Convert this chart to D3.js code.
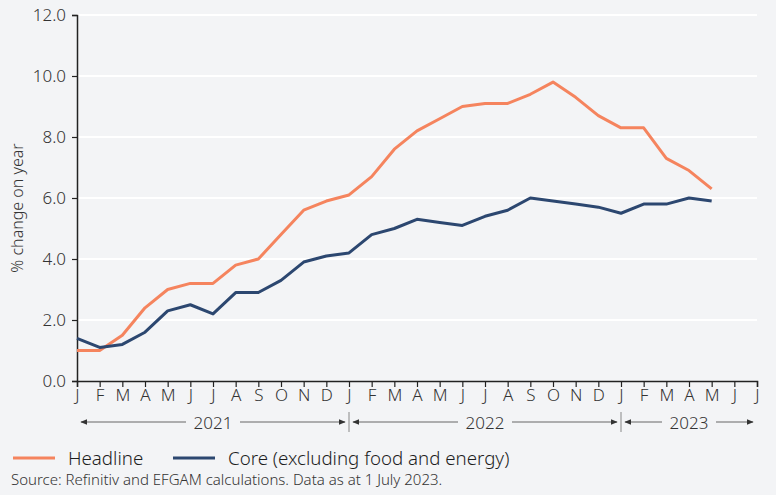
<!DOCTYPE html>
<html>
<head>
<meta charset="utf-8">
<script src="https://cdn.jsdelivr.net/npm/d3@7"></script>
<style>
  body { margin: 0; background: #f3f4f6; }
  svg { display: block; font-family: "Noto Sans", sans-serif; font-weight: 350; }
</style>
</head>
<body>
<svg id="chart"></svg>
<script>
// Monthly data Jan 2021 - May 2023
const months = ["J","F","M","A","M","J","J","A","S","O","N","D",
                "J","F","M","A","M","J","J","A","S","O","N","D",
                "J","F","M","A","M","J","J"];
const headline = [1.0, 1.0, 1.5, 2.4, 3.0, 3.2, 3.2, 3.8, 4.0, 4.8, 5.6, 5.9,
                  6.1, 6.7, 7.6, 8.2, 8.6, 9.0, 9.1, 9.1, 9.4, 9.8, 9.3, 8.7,
                  8.3, 8.3, 7.3, 6.9, 6.3];
const core = [1.4, 1.1, 1.2, 1.6, 2.3, 2.5, 2.2, 2.9, 2.9, 3.3, 3.9, 4.1,
              4.2, 4.8, 5.0, 5.3, 5.2, 5.1, 5.4, 5.6, 6.0, 5.9, 5.8, 5.7,
              5.5, 5.8, 5.8, 6.0, 5.9];
const years = [{label: "2021", start: 0, end: 12},
               {label: "2022", start: 12, end: 24},
               {label: "2023", start: 24, end: 30}];
const yTicks = [0, 2, 4, 6, 8, 10, 12];

const width = 776;
const height = 495;
const margin = {left: 77, right: 19, top: 15, bottom: 114};

const svg = d3.select("#chart")
    .attr("width", width)
    .attr("height", height);

svg.append("rect")
    .attr("width", width)
    .attr("height", height)
    .attr("fill", "#f3f4f6");

const x = d3.scaleLinear()
    .domain([0, months.length - 1])
    .range([margin.left, width - margin.right]);
const y = d3.scaleLinear()
    .domain([0, 12])
    .range([height - margin.bottom, margin.top]);

// gridlines
svg.append("g")
    .selectAll("line")
    .data(yTicks.slice(1))
    .enter()
    .append("line")
    .attr("x1", margin.left)
    .attr("x2", width - margin.right)
    .attr("y1", d => y(d))
    .attr("y2", d => y(d))
    .attr("stroke", "#ffffff")
    .attr("stroke-width", 2);

// y axis
const yAxis = d3.axisLeft(y)
    .tickValues(yTicks)
    .tickFormat(d3.format(".1f"))
    .tickSizeOuter(0)
    .tickSize(5)
    .tickPadding(6);
const gy = svg.append("g")
    .attr("transform", "translate(" + margin.left + ",0)")
    .call(yAxis);
gy.select(".domain").attr("stroke", "#222").attr("stroke-width", 1.5);
gy.selectAll(".tick line").attr("stroke", "#222").attr("stroke-width", 1.2);
gy.selectAll(".tick text")
    .attr("fill", "#333")
    .style("font-size", "17px")
    .style("font-family", "'Noto Sans', sans-serif")
    .style("font-weight", 350);

svg.append("text")
    .attr("transform", "translate(23,208) rotate(-90)")
    .attr("text-anchor", "middle")
    .attr("fill", "#333")
    .style("font-size", "16px")
    .text("% change on year");

// x axis
const xAxis = d3.axisBottom(x)
    .tickValues(d3.range(months.length))
    .tickFormat(i => months[i])
    .tickSizeOuter(0)
    .tickSize(6)
    .tickPadding(2);
const gx = svg.append("g")
    .attr("transform", "translate(0," + y(0) + ")")
    .call(xAxis);
gx.select(".domain").attr("stroke", "#222").attr("stroke-width", 1.5);
gx.selectAll(".tick line").attr("stroke", "#222").attr("stroke-width", 1.2);
gx.selectAll(".tick text")
    .attr("fill", "#333")
    .style("font-size", "17px")
    .style("font-family", "'Noto Sans', sans-serif")
    .style("font-weight", 350);

// year bands with arrows
const defs = svg.append("defs");
defs.append("marker")
    .attr("id", "arrow")
    .attr("viewBox", "0 0 10 10")
    .attr("refX", 9)
    .attr("refY", 5)
    .attr("markerWidth", 7)
    .attr("markerHeight", 7)
    .attr("orient", "auto-start-reverse")
    .append("path")
    .attr("d", "M0,1 L10,5 L0,9 Z")
    .attr("fill", "#333");

const yearY = 422;
const yearG = svg.append("g");
years.forEach((yr, k) => {
    const x0 = x(yr.start) + 4;
    const x1 = x(yr.end) - 4;
    const cx = (x(yr.start) + x(yr.end)) / 2;
    const half = 27;
    yearG.append("line")
        .attr("x1", cx - half).attr("x2", x0)
        .attr("y1", yearY).attr("y2", yearY)
        .attr("stroke", "#666").attr("stroke-width", 1)
        .attr("marker-end", "url(#arrow)");
    yearG.append("line")
        .attr("x1", cx + half).attr("x2", x1)
        .attr("y1", yearY).attr("y2", yearY)
        .attr("stroke", "#666").attr("stroke-width", 1)
        .attr("marker-end", "url(#arrow)");
    yearG.append("text")
        .attr("x", cx)
        .attr("y", yearY + 7)
        .attr("text-anchor", "middle")
        .attr("fill", "#333")
        .style("font-size", "17px")
        .text(yr.label);
    if (k > 0) {
        yearG.append("line")
            .attr("x1", x(yr.start)).attr("x2", x(yr.start))
            .attr("y1", yearY - 10).attr("y2", yearY + 10)
            .attr("stroke", "#888").attr("stroke-width", 1);
    }
});

// lines
const line = d3.line()
    .x((d, i) => x(i))
    .y(d => y(d));

svg.append("path")
    .datum(headline)
    .attr("fill", "none")
    .attr("stroke", "#f5845e")
    .attr("stroke-width", 3)
    .attr("stroke-linejoin", "round")
    .attr("d", line);

svg.append("path")
    .datum(core)
    .attr("fill", "none")
    .attr("stroke", "#2c4770")
    .attr("stroke-width", 3)
    .attr("stroke-linejoin", "round")
    .attr("d", line);

// legend
const legend = [
    {label: "Headline", color: "#f5845e", x: 13},
    {label: "Core (excluding food and energy)", color: "#2c4770", x: 173}
];
const legY = 458;
legend.forEach(l => {
    svg.append("line")
        .attr("x1", l.x).attr("x2", l.x + 42)
        .attr("y1", legY).attr("y2", legY)
        .attr("stroke", l.color)
        .attr("stroke-width", 3);
    svg.append("text")
        .attr("x", l.x + 55)
        .attr("y", legY + 7)
        .attr("fill", "#1e1e1e")
        .style("font-size", "18.7px")
        .text(l.label);
});

svg.append("text")
    .attr("x", 11)
    .attr("y", 485)
    .attr("fill", "#333")
    .style("font-size", "15px")
    .text("Source: Refinitiv and EFGAM calculations. Data as at 1 July 2023.");
</script>
</body>
</html>
